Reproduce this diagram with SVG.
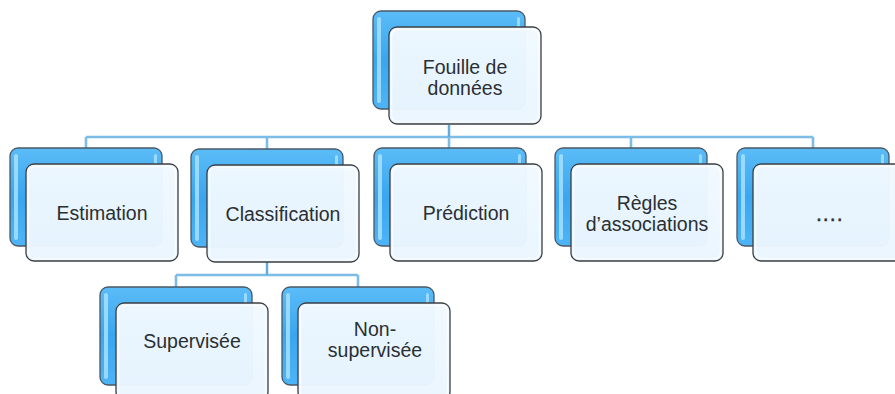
<svg xmlns="http://www.w3.org/2000/svg" width="895" height="394" viewBox="0 0 895 394">
  <defs>
    <linearGradient id="blueFill" x1="0" y1="0" x2="0" y2="1">
      <stop offset="0" stop-color="#5bbcf7"/>
      <stop offset="0.5" stop-color="#3aa6f0"/>
      <stop offset="1" stop-color="#4db4f6"/>
    </linearGradient>
    <linearGradient id="cardFill" x1="0" y1="0" x2="0" y2="1">
      <stop offset="0" stop-color="#f1f9ff"/>
      <stop offset="1" stop-color="#eaf5fe"/>
    </linearGradient>
    <style>
      .back { fill: url(#blueFill); stroke: #4a5866; stroke-width: 1.3; }
      .shine { fill: #a8e0ff; opacity: 0.85; }
      .card { fill: url(#cardFill); fill-opacity: 0.97; stroke: #3a3f44; stroke-width: 1.3; }
      .inner { fill: none; stroke: #ffffff; stroke-width: 1.5; opacity: 0.7; }
      .label { font-family: "Liberation Sans", Arial, sans-serif; font-size: 19.5px; fill: #2a2f34; text-anchor: middle; }
      .dots { letter-spacing: 1.5px; stroke: #2a2f34; stroke-width: 0.6; }
      .wire { fill: none; stroke: #7dbce6; stroke-width: 2.6; }
      .wire-core { fill: none; stroke: #4a9ad6; stroke-width: 1; }
    </style>
    <!-- Reusable two-layer node: blue back plate with a lighter card in front -->
    <g id="node">
      <rect class="back" x="0" y="0" width="152" height="98" rx="8"/>
      <rect class="shine" x="4" y="6" width="4" height="86" rx="2"/>
      <rect class="shine" x="144" y="6" width="3" height="14" rx="1.5"/>
      <rect class="card" x="16" y="16" width="152" height="97" rx="8"/>
      <rect class="inner" x="18.5" y="18.5" width="147" height="92" rx="6"/>
    </g>
  </defs>

  <rect width="895" height="394" fill="#ffffff"/>

  <!-- Connectors -->
  <g id="connectors">
    <path class="wire" d="M449 125 V137 M86 137 H813 M86 137 V148 M267 137 V149 M449 137 V148 M631 137 V148 M813 137 V148"/>
    <path class="wire-core" d="M449 125 V137"/>
    <path class="wire" d="M267 262 V275 M176 275 H358 M176 275 V287 M358 275 V287"/>
    <path class="wire-core" d="M267 262 V275"/>
  </g>

  <!-- Root -->
  <g id="node-fouille">
    <use href="#node" x="373" y="11"/>
    <text class="label" x="465" y="74">Fouille de</text>
    <text class="label" x="465" y="95">données</text>
  </g>

  <!-- Level 1 -->
  <g id="node-estimation">
    <use href="#node" x="10" y="148"/>
    <text class="label" x="102" y="220">Estimation</text>
  </g>
  <g id="node-classification">
    <use href="#node" x="191" y="149"/>
    <text class="label" x="283" y="221">Classification</text>
  </g>
  <g id="node-prediction">
    <use href="#node" x="374" y="148"/>
    <text class="label" x="466" y="220">Prédiction</text>
  </g>
  <g id="node-regles">
    <use href="#node" x="555" y="148"/>
    <text class="label" x="647" y="210">Règles</text>
    <text class="label" x="647" y="231">d’associations</text>
  </g>
  <g id="node-autres">
    <use href="#node" x="737" y="148"/>
    <text class="label dots" x="830" y="221">....</text>
  </g>

  <!-- Level 2 -->
  <g id="node-supervisee">
    <use href="#node" x="100" y="287"/>
    <text class="label" x="192" y="348">Supervisée</text>
  </g>
  <g id="node-non-supervisee">
    <use href="#node" x="282" y="287"/>
    <text class="label" x="375" y="336">Non-</text>
    <text class="label" x="375" y="357">supervisée</text>
  </g>
</svg>
